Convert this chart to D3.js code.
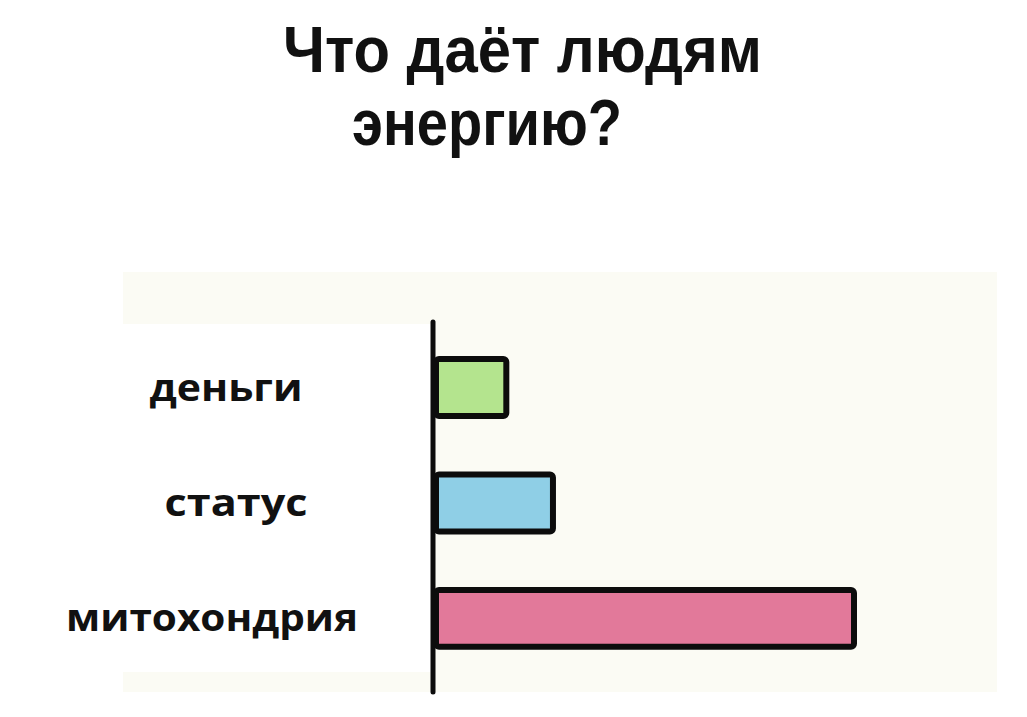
<!DOCTYPE html>
<html><head><meta charset="utf-8">
<script src="https://cdn.jsdelivr.net/npm/d3@7"></script>
<style>html,body{margin:0;padding:0;background:#fff;}svg{display:block;}</style>
</head><body>
<script>
// Data
const titleLines = ["Что даёт людям", "энергию?"];
const categories = ["деньги", "статус", "митохондрия"];
const values = [18, 29, 100];
const colors = ["#b4e48e", "#8fcfe6", "#e2799a"];

const W = 1027, H = 717;
const svg = d3.select("body").append("svg").attr("width", W).attr("height", H);

// background panels
svg.append("rect").attr("x", 123).attr("y", 272).attr("width", 874).attr("height", 420).attr("fill", "#fbfbf4");
svg.append("rect").attr("x", 123).attr("y", 324).attr("width", 308).attr("height", 348).attr("fill", "#ffffff");

const FONT = "'Open Sans', 'DejaVu Sans', sans-serif";
const TFONT = "'Liberation Sans', Arial, sans-serif";

// title (one text element, two lines)
const tl = [{x: 283, y: 72, w: 479}, {x: 352, y: 145, w: 270}];
const title = svg.append("text")
  .style("font-family", TFONT)
  .style("font-weight", 700).style("font-size", "64px").attr("fill", "#111");
title.selectAll("tspan").data(titleLines).join("tspan")
  .attr("x", (d, i) => tl[i].x).attr("y", (d, i) => tl[i].y)
  .attr("textLength", (d, i) => tl[i].w).attr("lengthAdjust", "spacingAndGlyphs")
  .text(d => d);

// scales
const x0 = 433;
const x = d3.scaleLinear().domain([0, 100]).range([x0, 857]);
const y = d3.scaleBand().domain(categories).range([322, 692])
  .paddingInner(0.4545).paddingOuter(0.33).align(0.447);

// bars
const sw = 6;
svg.selectAll("rect.bar").data(categories).join("rect")
  .attr("class", "bar")
  .attr("x", x0 + sw / 2)
  .attr("y", d => y(d) + sw / 2)
  .attr("width", (d, i) => x(values[i]) - x0 - sw)
  .attr("height", y.bandwidth() - sw)
  .attr("rx", 3)
  .attr("fill", (d, i) => colors[i])
  .attr("stroke", "#0c0c0c").attr("stroke-width", sw);

// axis line (vertical)
const yr = y.range();
svg.append("line")
  .attr("x1", x0).attr("x2", x0).attr("y1", yr[0]).attr("y2", yr[1])
  .attr("stroke", "#0c0c0c").attr("stroke-width", 5).attr("stroke-linecap", "round");

// labels
const lw = {"деньги": 153, "статус": 143, "митохондрия": 292};
const lx = {"деньги": 226, "статус": 236, "митохондрия": 212};
svg.selectAll("text.lab").data(categories).join("text")
  .attr("class", "lab")
  .attr("x", d => lx[d])
  .attr("y", d => y(d) + y.bandwidth() / 2 + 13)
  .attr("text-anchor", "middle")
  .attr("textLength", d => lw[d]).attr("lengthAdjust", "spacingAndGlyphs")
  .style("font-family", FONT)
  .style("font-weight", 700).style("font-size", "37px").attr("fill", "#111")
  .text(d => d);
</script>
</body></html>
